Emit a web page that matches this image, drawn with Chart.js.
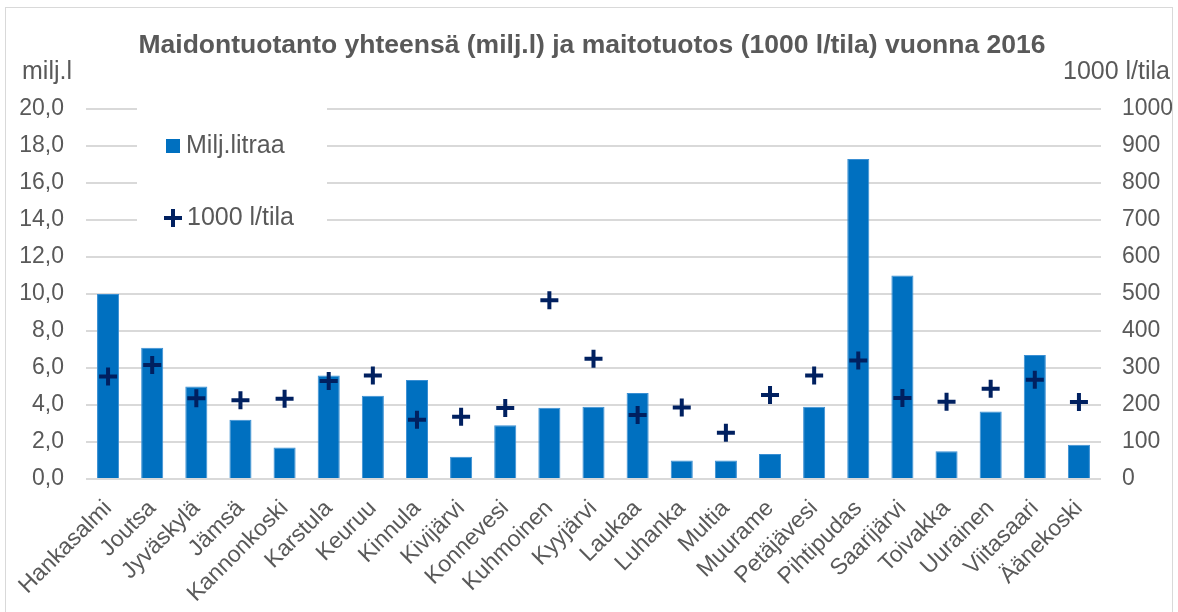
<!DOCTYPE html>
<html>
<head>
<meta charset="utf-8">
<script src="https://cdn.jsdelivr.net/npm/chart.js@4"></script>
<style>
  body { margin: 0; background: #fff; }
  #wrap { width: 1178px; height: 612px; position: relative; }
</style>
</head>
<body>
<div id="wrap"><canvas id="chart"></canvas></div>
<script>
const municipalities = ['Hankasalmi', 'Joutsa', 'Jyväskylä', 'Jämsä', 'Kannonkoski', 'Karstula',
  'Keuruu', 'Kinnula', 'Kivijärvi', 'Konnevesi', 'Kuhmoinen', 'Kyyjärvi', 'Laukaa', 'Luhanka',
  'Multia', 'Muurame', 'Petäjävesi', 'Pihtipudas', 'Saarijärvi', 'Toivakka', 'Uurainen',
  'Viitasaari', 'Äänekoski'];
const milkTotal = [10.0, 7.1, 5.0, 3.2, 1.7, 5.6, 4.5, 5.35, 1.2, 2.9, 3.85, 3.9, 4.65, 1.0,
  1.0, 1.35, 3.9, 17.3, 11.0, 1.5, 3.65, 6.7, 1.85];
const milkPerFarm = [277, 308, 218, 213, 217, 265, 280, 160, 168, 192, 483, 325, 173, 193,
  125, 227, 280, 320, 219, 209, 244, 268, 208];

const chartTitle = 'Maidontuotanto yhteensä (milj.l) ja maitotuotos (1000 l/tila) vuonna 2016';
const leftUnit = 'milj.l';
const rightUnit = '1000 l/tila';

const textColor = '#595959';
const fontFamily = '"Liberation Sans", Arial, sans-serif';

// title, unit labels, legend box and outer frame
const decorations = {
  id: 'decorations',
  beforeDatasetsDraw(chart) {
    const ctx = chart.ctx;
    const sets = chart.data.datasets;
    ctx.save();
    ctx.fillStyle = '#fff';
    ctx.fillRect(137, 104, 190, 128);

    ctx.font = '25px ' + fontFamily;
    ctx.fillStyle = textColor;
    ctx.textAlign = 'left';
    ctx.textBaseline = 'middle';

    ctx.fillStyle = sets[0].backgroundColor;
    ctx.fillRect(166, 139, 14, 14);
    ctx.fillStyle = textColor;
    ctx.fillText(sets[0].label, 186, 146);

    ctx.strokeStyle = sets[1].pointBorderColor;
    ctx.lineWidth = 4;
    ctx.beginPath();
    ctx.moveTo(164, 218); ctx.lineTo(182, 218);
    ctx.moveTo(173, 209); ctx.lineTo(173, 227);
    ctx.stroke();
    ctx.fillText(sets[1].label, 187, 218);
    ctx.restore();
  },
  afterDraw(chart) {
    const ctx = chart.ctx;
    ctx.save();
    ctx.fillStyle = textColor;
    ctx.textBaseline = 'middle';
    ctx.font = 'bold 26.5px ' + fontFamily;
    ctx.textAlign = 'center';
    ctx.fillText(chartTitle, 592, 46);

    ctx.font = '25px ' + fontFamily;
    ctx.textAlign = 'left';
    ctx.fillText(leftUnit, 22, 72);
    ctx.textAlign = 'right';
    ctx.fillText(rightUnit, 1170, 72);

    ctx.strokeStyle = '#d9d9d9';
    ctx.lineWidth = 1;
    ctx.strokeRect(5.5, 7.5, 1167, 640);
    ctx.restore();
  }
};

new Chart(document.getElementById('chart'), {
  data: {
    labels: municipalities,
    datasets: [{
      type: 'bar',
      label: 'Milj.litraa',
      data: milkTotal,
      yAxisID: 'y',
      backgroundColor: '#0070C0',
      borderColor: '#3a8fd3',
      borderWidth: 1,
      categoryPercentage: 1,
      barPercentage: 0.5,
      order: 2
    }, {
      type: 'line',
      label: '1000 l/tila',
      data: milkPerFarm,
      yAxisID: 'y1',
      showLine: false,
      pointStyle: 'cross',
      pointRadius: 9,
      pointBorderWidth: 4,
      pointBorderColor: '#002060',
      pointBackgroundColor: '#002060',
      order: 1
    }]
  },
  options: {
    responsive: true,
    maintainAspectRatio: false,
    animation: false,
    layout: { padding: { top: 109, left: 0, right: 0, bottom: 0 } },
    plugins: {
      legend: { display: false },
      title: { display: false },
      tooltip: { enabled: false }
    },
    scales: {
      x: {
        grid: { display: false },
        border: { display: false },
        ticks: {
          autoSkip: false,
          minRotation: 45,
          maxRotation: 45,
          padding: 8,
          color: textColor,
          font: { family: fontFamily, size: 23 }
        },
        afterFit(scale) { scale.height = 133; }
      },
      y: {
        position: 'left',
        min: 0,
        max: 20,
        border: { display: false },
        grid: { color: '#d9d9d9', lineWidth: 2, drawTicks: false },
        ticks: {
          stepSize: 2,
          padding: 22,
          color: textColor,
          font: { family: fontFamily, size: 23 },
          callback: (v) => v.toFixed(1).replace('.', ',')
        },
        afterFit(scale) { scale.width = 86; }
      },
      y1: {
        position: 'right',
        min: 0,
        max: 1000,
        border: { display: false },
        grid: { display: false, drawTicks: false },
        ticks: {
          stepSize: 100,
          padding: 21,
          color: textColor,
          font: { family: fontFamily, size: 23 },
          callback: (v) => String(v)
        },
        afterFit(scale) { scale.width = 77; }
      }
    }
  },
  plugins: [decorations]
});
</script>
</body>
</html>
